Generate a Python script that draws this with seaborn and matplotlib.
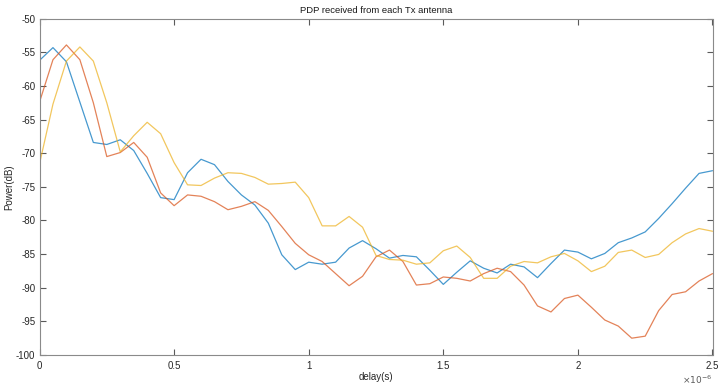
import numpy as np
import pandas as pd
import matplotlib
matplotlib.use("Agg")
import matplotlib.pyplot as plt
import seaborn as sns
from matplotlib.ticker import FuncFormatter, MultipleLocator

# Delay axis: 51 taps spaced 50 ns apart
delay_step = 0.05e-6
n_taps = 51

# Received power per transmit antenna (dB)
tx1_power = [-56.2, -54.3, -56.4, -62.4, -68.4, -68.7, -68.0, -69.6, -73.0, -76.6,
             -76.9, -72.9, -70.9, -71.7, -74.2, -76.2, -77.7, -80.4, -85.1, -87.3,
             -86.2, -86.5, -86.2, -84.1, -83.0, -84.2, -85.6, -85.2, -85.4, -87.4,
             -89.5, -87.7, -86.0, -87.1, -87.8, -86.5, -86.9, -88.5, -86.4, -84.4,
             -84.7, -85.7, -84.9, -83.3, -82.6, -81.7, -79.7, -77.5, -75.2, -73.0,
             -72.6]
tx2_power = [-62.4, -56.1, -53.9, -56.1, -62.5, -70.5, -69.9, -68.4, -70.6, -75.9,
             -77.8, -76.2, -76.4, -77.2, -78.4, -77.9, -77.2, -78.5, -80.9, -83.4,
             -85.1, -86.1, -87.9, -89.7, -88.3, -85.4, -84.4, -86.1, -89.6, -89.4,
             -88.4, -88.6, -89.0, -87.9, -87.1, -87.6, -89.6, -92.7, -93.6, -91.6,
             -91.1, -92.9, -94.8, -95.7, -97.5, -97.2, -93.4, -91.0, -90.6, -89.0,
             -87.9]
tx3_power = [-71.6, -62.7, -56.3, -54.2, -56.3, -62.5, -69.8, -67.4, -65.4, -67.1,
             -71.4, -74.7, -74.8, -73.7, -72.9, -73.0, -73.6, -74.6, -74.5, -74.3,
             -76.6, -80.8, -80.8, -79.4, -81.0, -85.2, -85.8, -85.9, -86.5, -86.3,
             -84.5, -83.8, -85.5, -88.6, -88.6, -86.8, -86.1, -86.3, -85.4, -84.9,
             -86.0, -87.6, -86.8, -84.75, -84.4, -85.5, -85.05, -83.3, -82.0, -81.2,
             -81.6]

delay = np.arange(n_taps) * delay_step
antennas = ["Tx1", "Tx2", "Tx3"]
series = [tx1_power, tx2_power, tx3_power]

df = pd.DataFrame({
    "delay": np.tile(delay, len(antennas)),
    "power": np.concatenate(series),
    "antenna": np.repeat(antennas, n_taps),
})

sns.set_theme(style="white")
plt.rcParams["font.family"] = ["Liberation Sans", "DejaVu Sans"]

palette = {"Tx1": "#0072BD", "Tx2": "#D95319", "Tx3": "#EDB120"}
axis_grey = "#262626"

fig = plt.figure(figsize=(7.19, 3.89), dpi=100)
ax = fig.add_axes([39.5 / 719, 1 - 355 / 389, (712.5 - 39.5) / 719, (355 - 18.7) / 389])

sns.lineplot(data=df, x="delay", y="power", hue="antenna", palette=palette,
             linewidth=0.9, alpha=0.72, legend=False, ax=ax, estimator=None, sort=False)

ax.set_xlim(0, 2.5e-6)
ax.set_ylim(-100, -50)
ax.xaxis.set_major_locator(MultipleLocator(0.5e-6))
ax.yaxis.set_major_locator(MultipleLocator(5))
ax.xaxis.set_major_formatter(FuncFormatter(lambda v, p: f"{v * 1e6:g}"))
ax.yaxis.set_major_formatter(FuncFormatter(lambda v, p: f"{v:g}"))

for s in ax.spines.values():
    s.set_color("#8a8a8a")
    s.set_linewidth(0.8)
ax.tick_params(axis="both", which="both", direction="in", length=4, width=0.8,
               colors="#5a5a5a", labelcolor=axis_grey, labelsize=7,
               top=True, right=True, bottom=True, left=True)
ax.tick_params(axis="x", pad=4)
ax.tick_params(axis="y", pad=3)

ax.set_title("PDP received from each Tx antenna", fontsize=6.8, color="#1a1a1a", pad=4)
ax.set_xlabel("delay(s)", fontsize=7, color=axis_grey)
ax.set_ylabel("Power(dB)", fontsize=7, color=axis_grey)
ax.xaxis.set_label_coords(0.5, -0.05)
ax.yaxis.set_label_coords(-0.037, 0.5)
ax.text(1.0, -0.054, r"$\times10^{-6}$", transform=ax.transAxes, ha="right", va="top",
        fontsize=6.5, color="#5a5a5a")

fig.savefig("out.png", dpi=100, facecolor="white")
